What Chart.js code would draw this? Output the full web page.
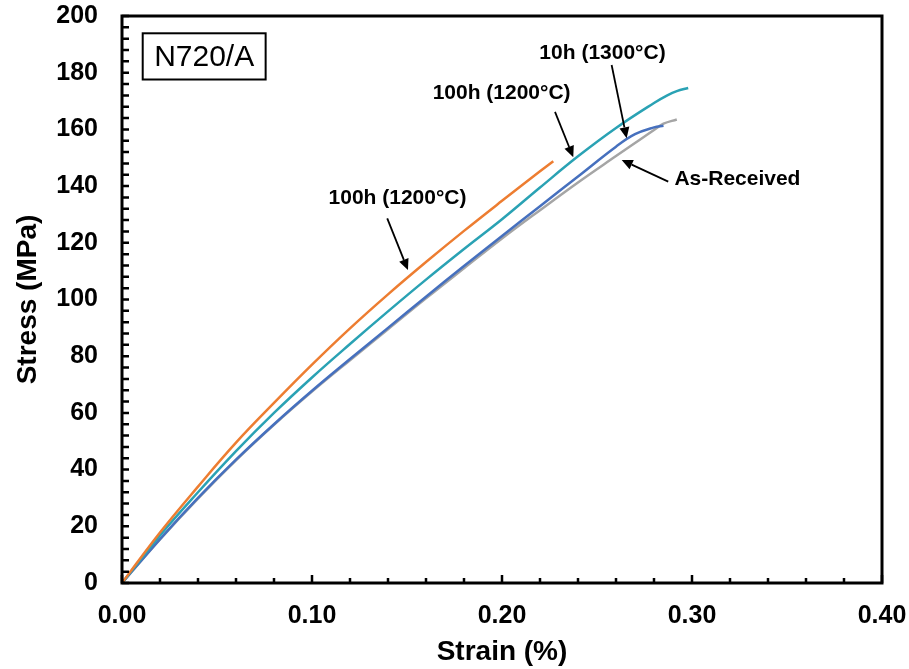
<!DOCTYPE html>
<html>
<head>
<meta charset="utf-8">
<script src="https://cdn.jsdelivr.net/npm/chart.js@4/dist/chart.umd.min.js"></script>
<style>
  html, body { margin: 0; padding: 0; background: #ffffff; }
  #wrap { width: 909px; height: 669px; position: relative; }
</style>
</head>
<body>
<div id="wrap"><canvas id="c" width="909" height="669"></canvas></div>
<script>
// ---- Data ----
const strainOrange = [0, 0.02, 0.04, 0.06, 0.08, 0.10, 0.12, 0.14, 0.16, 0.18, 0.20, 0.22, 0.227];
const stressOrange = [0, 17.8, 34, 49.5, 63.5, 77, 89.8, 101.8, 113.2, 124.2, 134.8, 145.2, 148.8];

const strainTeal = [0, 0.02, 0.04, 0.06, 0.08, 0.10, 0.12, 0.14, 0.16, 0.18, 0.20, 0.22, 0.24, 0.26, 0.28, 0.287, 0.292, 0.298];
const stressTeal = [0, 16.8, 32, 46.5, 60, 72.5, 84.3, 95.8, 107, 117.8, 128.3, 139.5, 150.5, 160.5, 169.3, 172, 173.5, 174.6];

const strainBlue = [0, 0.02, 0.04, 0.06, 0.08, 0.10, 0.12, 0.14, 0.16, 0.18, 0.20, 0.22, 0.24, 0.26, 0.27, 0.28, 0.285];
const stressBlue = [0, 15.5, 30, 43.5, 56, 67.8, 79, 90, 101, 111.8, 122.4, 132.9, 143.4, 153.9, 158.3, 160.7, 161.3];

const strainGray = [0, 0.02, 0.04, 0.06, 0.08, 0.10, 0.12, 0.14, 0.16, 0.18, 0.20, 0.22, 0.24, 0.26, 0.27, 0.28, 0.285, 0.292];
const stressGray = [0, 15.4, 29.8, 43.3, 55.8, 67.5, 78.6, 89.5, 100.4, 111, 121.5, 131.5, 141.3, 150.6, 155.2, 159.8, 162, 163.5];

const seriesNames = ["100h (1200°C)", "100h (1200°C)", "10h (1300°C)", "As-Received"];
const xTickLabels = ["0.00", "0.10", "0.20", "0.30", "0.40"];
const yTickLabels = ["0", "20", "40", "60", "80", "100", "120", "140", "160", "180", "200"];
const panelLabel = "N720/A";
const xTitle = "Strain (%)";
const yTitle = "Stress (MPa)";

function pts(xs, ys) { return xs.map((x, i) => ({ x: x, y: ys[i] })); }

// annotations in data coordinates: text position, arrow start, arrow tip
const annotations = [
  { text: seriesNames[0], tx: 0.145, ty: 135.8, ax: 0.1396, ay: 128.6, bx: 0.1505, by: 110.4 },
  { text: seriesNames[1], tx: 0.1998, ty: 172.8, ax: 0.2279, ay: 166.2, bx: 0.2375, by: 150.2 },
  { text: seriesNames[2], tx: 0.2529, ty: 186.9, ax: 0.2577, ay: 182.7, bx: 0.2656, by: 156.9 },
  { text: seriesNames[3], tx: 0.3239, ty: 142.5, ax: 0.2875, ay: 141.6, bx: 0.263, by: 149.2 }
];

const FONT = "'Liberation Sans', Arial, sans-serif";

const framePlugin = {
  id: 'frame',
  afterDatasetsDraw(chart) {
    const ctx = chart.ctx;
    const xs = chart.scales.x, ys = chart.scales.y;
    const a = chart.chartArea;
    ctx.save();
    // inward tick marks
    ctx.strokeStyle = '#000';
    ctx.lineWidth = 2.5;
    ctx.beginPath();
    for (let i = 0; i <= 20; i++) {
      const v = i * 0.02;
      const px = xs.getPixelForValue(v);
      const len = (i % 5 === 0) ? 8 : 5;
      ctx.moveTo(px, a.bottom);
      ctx.lineTo(px, a.bottom - len);
    }
    for (let i = 0; i <= 50; i++) {
      const v = i * 4;
      const py = ys.getPixelForValue(v);
      ctx.moveTo(a.left, py);
      ctx.lineTo(a.left + 7, py);
    }
    ctx.stroke();
    // frame
    ctx.lineWidth = 3;
    ctx.strokeRect(a.left, a.top, a.right - a.left, a.bottom - a.top);

    // panel label box
    const bx1 = xs.getPixelForValue(0.0109), by1 = ys.getPixelForValue(193.9);
    const bx2 = xs.getPixelForValue(0.0756), by2 = ys.getPixelForValue(177.6);
    ctx.lineWidth = 2;
    ctx.strokeRect(bx1, by1, bx2 - bx1, by2 - by1);
    ctx.fillStyle = '#000';
    ctx.font = "30px " + FONT;
    ctx.textAlign = 'center';
    ctx.textBaseline = 'middle';
    ctx.fillText(panelLabel, (bx1 + bx2) / 2, (by1 + by2) / 2 + 1);

    // annotations with arrows
    ctx.font = "bold 21px " + FONT;
    annotations.forEach(an => {
      const tx = xs.getPixelForValue(an.tx), ty = ys.getPixelForValue(an.ty);
      ctx.fillText(an.text, tx, ty);
      const x0 = xs.getPixelForValue(an.ax), y0 = ys.getPixelForValue(an.ay);
      const x1 = xs.getPixelForValue(an.bx), y1 = ys.getPixelForValue(an.by);
      const ang = Math.atan2(y1 - y0, x1 - x0);
      const hl = 11, hw = 5;
      const bxp = x1 - hl * Math.cos(ang), byp = y1 - hl * Math.sin(ang);
      ctx.lineWidth = 1.8;
      ctx.beginPath();
      ctx.moveTo(x0, y0);
      ctx.lineTo(bxp, byp);
      ctx.stroke();
      ctx.beginPath();
      ctx.moveTo(x1, y1);
      ctx.lineTo(bxp + hw * Math.sin(ang), byp - hw * Math.cos(ang));
      ctx.lineTo(bxp - hw * Math.sin(ang), byp + hw * Math.cos(ang));
      ctx.closePath();
      ctx.fill();
    });
    ctx.restore();
  }
};

const lineCommon = { showLine: true, pointRadius: 0, borderWidth: 2.5, fill: false, tension: 0.4 };

new Chart(document.getElementById('c'), {
  type: 'scatter',
  data: {
    datasets: [
      Object.assign({ label: seriesNames[0], data: pts(strainOrange, stressOrange), borderColor: '#ED7D31', order: 1 }, lineCommon),
      Object.assign({ label: seriesNames[1], data: pts(strainTeal, stressTeal), borderColor: '#2AA2B4', order: 2 }, lineCommon),
      Object.assign({ label: seriesNames[2], data: pts(strainBlue, stressBlue), borderColor: '#4670BE', order: 3 }, lineCommon),
      Object.assign({ label: seriesNames[3], data: pts(strainGray, stressGray), borderColor: '#A5A5A5', order: 4, borderWidth: 3.5 }, lineCommon)
    ]
  },
  options: {
    responsive: false,
    animation: false,
    events: [],
    layout: { padding: { left: 0, right: 27, top: 16, bottom: 0 } },
    plugins: { legend: { display: false }, tooltip: { enabled: false } },
    scales: {
      x: {
        type: 'linear', min: 0, max: 0.4,
        afterFit(s) { s.height = 86; s.paddingLeft = 0; s.paddingRight = 0; },
        afterBuildTicks(s) { s.ticks = xTickLabels.map(t => ({ value: parseFloat(t) })); },
        grid: { display: false, drawTicks: false },
        border: { display: false },
        ticks: {
          padding: 18, color: '#000', maxRotation: 0,
          font: { family: FONT, size: 25, weight: 'bold' },
          callback: (v, i) => xTickLabels[i]
        },
        title: { display: true, text: xTitle, color: '#000', padding: { top: 0, bottom: 0 },
                 font: { family: FONT, size: 28, weight: 'bold' } }
      },
      y: {
        type: 'linear', min: 0, max: 200,
        afterFit(s) { s.width = 122; s.paddingTop = 0; s.paddingBottom = 0; },
        afterBuildTicks(s) { s.ticks = yTickLabels.map(t => ({ value: parseFloat(t) })); },
        grid: { display: false, drawTicks: false },
        border: { display: false },
        ticks: {
          padding: 24, color: '#000',
          font: { family: FONT, size: 25, weight: 'bold' },
          callback: (v, i) => yTickLabels[i]
        },
        title: { display: true, text: yTitle, color: '#000', padding: { top: 11, bottom: 0 },
                 font: { family: FONT, size: 28, weight: 'bold' } }
      }
    }
  },
  plugins: [framePlugin]
});
</script>
</body>
</html>
